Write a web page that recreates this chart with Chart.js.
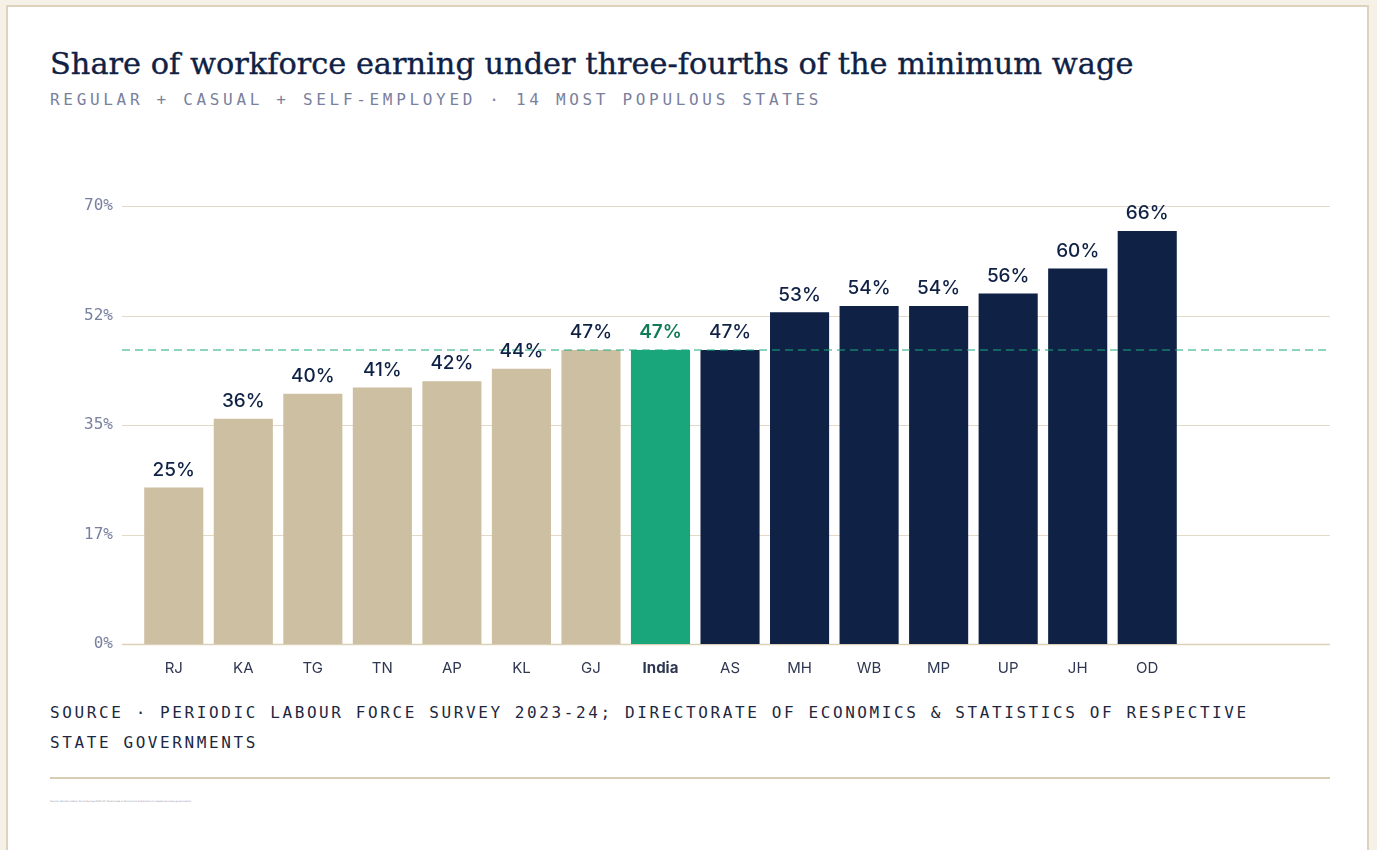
<!DOCTYPE html>
<html>
<head>
<meta charset="utf-8">
<script src="https://cdn.jsdelivr.net/npm/chart.js@4.4.1/dist/chart.umd.min.js"></script>
<style>
    html, body {
        margin: 0;
        padding: 0;
        background: #f6f1e6;
        width: 1377px;
        height: 850px;
        overflow: hidden;
    }
    .card {
        position: absolute;
        left: 6px;
        top: 5px;
        width: 1363px;
        height: 900px;
        background: #ffffff;
        border: 2px solid #ddd3bd;
        box-sizing: border-box;
    }
    .title {
        position: absolute;
        left: 50px;
        top: 46px;
        margin: 0;
        font-family: "DejaVu Serif", serif;
        font-weight: normal;
        font-size: 30.4px;
        color: #0f2145;
        white-space: nowrap;
        -webkit-text-stroke: 0.35px #0f2145;
    }
    .subtitle {
        position: absolute;
        left: 50px;
        top: 90px;
        font-family: "DejaVu Sans Mono", monospace;
        font-size: 16px;
        letter-spacing: 3.68px;
        color: #7a7f9e;
        white-space: nowrap;
    }
    .chart-wrap {
        position: absolute;
        left: 0;
        top: 180px;
        width: 1377px;
        height: 510px;
    }
    .source {
        position: absolute;
        left: 50px;
        top: 698px;
        width: 1262px;
        font-family: "DejaVu Sans Mono", monospace;
        font-size: 16px;
        line-height: 30px;
        letter-spacing: 2.6px;
        color: #1e2740;
    }
    .rule {
        position: absolute;
        left: 50px;
        top: 777px;
        width: 1280px;
        height: 2px;
        background: #d8cdb3;
    }
    .credit {
        position: absolute;
        left: 50px;
        top: 800px;
        font-family: "DejaVu Sans", sans-serif;
        font-size: 2.4px;
        color: #8a8fa8;
        white-space: nowrap;
    }
</style>
</head>
<body>
<div class="card"></div>
<h1 class="title">Share of workforce earning under three-fourths of the minimum wage</h1>
<div class="subtitle">REGULAR + CASUAL + SELF-EMPLOYED · 14 MOST POPULOUS STATES</div>
<div class="chart-wrap"><canvas id="wageChart" width="1377" height="510"></canvas></div>
<div class="source">SOURCE · PERIODIC LABOUR FORCE SURVEY 2023-24; DIRECTORATE OF ECONOMICS &amp; STATISTICS OF RESPECTIVE STATE GOVERNMENTS</div>
<div class="rule"></div>
<div class="credit">Source: Periodic Labour Force Survey 2023-24; Directorate of Economics &amp; Statistics of respective state governments</div>

<script>
// states sorted by share, with the all-India figure in between
const states = ['RJ', 'KA', 'TG', 'TN', 'AP', 'KL', 'GJ', 'India', 'AS', 'MH', 'WB', 'MP', 'UP', 'JH', 'OD'];
const shares = [25, 36, 40, 41, 42, 44, 47, 47, 47, 53, 54, 54, 56, 60, 66];
const groups = ['below', 'below', 'below', 'below', 'below', 'below', 'below', 'india',
    'above', 'above', 'above', 'above', 'above', 'above', 'above'];
const indiaAverage = 47;
const yTickLabels = ['0%', '17%', '35%', '52%', '70%'];
const yMax = 70;

const groupColors = {below: '#cdbfa2', india: '#18a67a', above: '#0f2145'};

const guidesPlugin = {
    id: 'guides',
    beforeDatasetsDraw(chart) {
        const {ctx, chartArea, scales} = chart;
        const left = chartArea.left - 17;
        const right = chartArea.right + 148;
        ctx.save();
        scales.y.ticks.forEach((tick, i) => {
            const y = Math.round(scales.y.getPixelForValue(tick.value)) + 0.5;
            ctx.strokeStyle = i === 0 ? '#dcd1b8' : '#e3d9c6';
            ctx.lineWidth = i === 0 ? 1.5 : 1;
            ctx.beginPath();
            ctx.moveTo(left, y);
            ctx.lineTo(right, y);
            ctx.stroke();
        });
        ctx.restore();
    },
    afterDatasetsDraw(chart) {
        const {ctx, chartArea, scales} = chart;
        const left = chartArea.left - 17;
        const right = chartArea.right + 148;
        const y = Math.round(scales.y.getPixelForValue(indiaAverage));

        ctx.save();
        ctx.strokeStyle = 'rgba(28, 170, 125, 0.5)';
        ctx.lineWidth = 2;
        ctx.setLineDash([8, 5]);
        ctx.beginPath();
        ctx.moveTo(left, y);
        ctx.lineTo(right, y);
        ctx.stroke();
        ctx.restore();

        // value labels above every bar
        const meta = chart.getDatasetMeta(0);
        ctx.save();
        ctx.textAlign = 'center';
        ctx.textBaseline = 'bottom';
        meta.data.forEach((bar, i) => {
            const isIndia = groups[i] === 'india';
            ctx.font = (isIndia ? '600 ' : '500 ') + '19px Inter';
            ctx.fillStyle = isIndia ? '#137a58' : '#0f2145';
            ctx.fillText(shares[i] + '%', bar.x, bar.y - 8);
        });
        ctx.restore();
    }
};

const ctx = document.getElementById('wageChart').getContext('2d');
const wageChart = new Chart(ctx, {
    type: 'bar',
    data: {
        labels: states,
        datasets: [{
            data: shares,
            backgroundColor: groups.map(g => groupColors[g]),
            borderWidth: 0,
            categoryPercentage: 1,
            barPercentage: 0.85
        }]
    },
    options: {
        responsive: false,
        animation: false,
        layout: {
            padding: {top: 26, right: 195, bottom: 0, left: 0}
        },
        plugins: {
            legend: {display: false},
            tooltip: {enabled: false}
        },
        scales: {
            x: {
                grid: {display: false, drawTicks: false},
                border: {display: false},
                ticks: {
                    padding: 15,
                    color: '#2f3852',
                    font: (c) => ({
                        family: 'Inter',
                        size: 15,
                        weight: states[c.index] === 'India' ? '700' : '400'
                    })
                },
                afterFit: (scale) => {
                    scale.height = 46;
                }
            },
            y: {
                min: 0,
                max: yMax,
                grid: {display: false, drawTicks: false},
                border: {display: false},
                ticks: {
                    stepSize: yMax / 4,
                    padding: 26,
                    color: '#7a80a0',
                    font: {family: 'DejaVu Sans Mono', size: 16},
                    callback: (value, index) => yTickLabels[index]
                },
                afterFit: (scale) => {
                    scale.width = 139;
                    scale.paddingTop = 0;
                    scale.paddingBottom = 0;
                }
            }
        }
    },
    plugins: [guidesPlugin]
});
</script>
</body>
</html>
